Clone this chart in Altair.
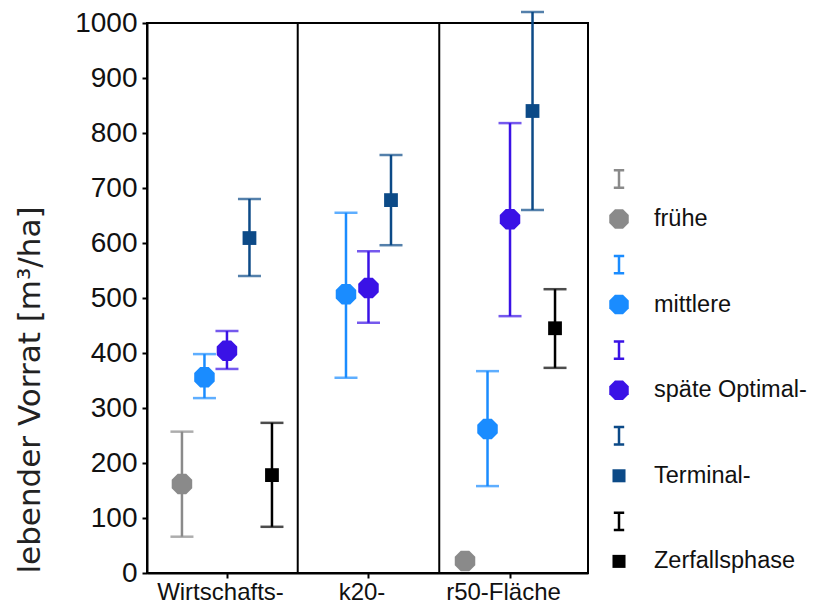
import altair as alt
import pandas as pd

# ---- data ----
areas = ["Wirtschafts-", "k20-", "r50-Fläche"]
phases = ["frühe", "mittlere", "späte Optimal-", "Terminal-", "Zerfallsphase"]
colors = ["#8a8a8a", "#1a8cff", "#3a12e6", "#0c4a87", "#000000"]

mean_wirt = [162, 356, 404, 609, 178]
low_wirt = [66, 318, 371, 540, 84]
high_wirt = [257, 398, 440, 680, 273]

mean_k20 = [None, 507, 518, 678, None]
low_k20 = [None, 355, 455, 596, None]
high_k20 = [None, 655, 585, 760, None]

mean_r50 = [22, 262, 643, 840, 445]
low_r50 = [None, 158, 467, 660, 373]
high_r50 = [None, 367, 818, 1020, 516]

y_ticks = list(range(0, 1001, 100))

# ---- table ----
rows = []
for ai, (m, lo, hi) in enumerate([(mean_wirt, low_wirt, high_wirt),
                                  (mean_k20, low_k20, high_k20),
                                  (mean_r50, low_r50, high_r50)]):
    for pi, ph in enumerate(phases):
        rows.append({"area": areas[ai], "area_idx": ai, "phase": ph, "phase_idx": pi,
                     "mean": m[pi], "lo": lo[pi], "hi": hi[pi]})
df = pd.DataFrame(rows)

FONT = "Liberation Sans"
STEP = 0.159
XDOM = [-0.565, 2.551]
OCT = "M-0.414,-1L0.414,-1L1,-0.414L1,0.414L0.414,1L-0.414,1L-1,0.414L-1,-0.414Z"
IBAR = "M-0.6,-1H0.6M0,-1V1M-0.6,1H0.6"

color = alt.Color("phase:N", scale=alt.Scale(domain=phases, range=colors), legend=None)
label_expr = "[" + ",".join("'%s'" % a for a in areas) + "][datum.value]"

xscale = alt.Scale(domain=XDOM, nice=False, zero=False)
xenc = alt.X("xpos:Q", scale=xscale,
             axis=alt.Axis(values=list(range(len(areas))), labelExpr=label_expr, title=None,
                           grid=False, tickSize=5, tickWidth=2, tickColor="black",
                           domainColor="black", domainWidth=2, labelFontSize=24,
                           labelFont=FONT, labelColor="#111", labelPadding=2,
                           labelOffset=-7))
yscale = alt.Scale(domain=[0, 1000], nice=False, zero=True)
yaxis = alt.Axis(values=y_ticks, format="d", grid=False, tickSize=5, tickWidth=2,
                 tickColor="black", domainColor="black", domainWidth=2, labelFontSize=28,
                 labelFont=FONT, labelColor="#111", labelPadding=5,
                 title="lebender Vorrat [m³/ha]", titleFont="DejaVu Sans", titleFontSize=31,
                 titleFontWeight="normal", titleColor="#222", titlePadding=28,
                 titleAnchor="start")

base = alt.Chart(df).transform_calculate(
    xpos=f"datum.area_idx + (datum.phase_idx - 2) * {STEP}"
)
bars = base.transform_filter("isValid(datum.lo)")

rules = bars.mark_rule(strokeWidth=2.5).encode(
    x=xenc, y=alt.Y("lo:Q", scale=yscale, axis=yaxis), y2="hi:Q", color=color)
cap_lo = bars.mark_tick(orient="horizontal", size=23, thickness=2.5).encode(
    x=xenc, y=alt.Y("lo:Q", scale=yscale, axis=yaxis), color=color)
cap_hi = bars.mark_tick(orient="horizontal", size=23, thickness=2.5).encode(
    x=xenc, y=alt.Y("hi:Q", scale=yscale, axis=yaxis), color=color)
oct_pts = base.transform_filter("isValid(datum.mean) && datum.phase_idx < 3").mark_point(
    shape=OCT, filled=True, size=420, opacity=1).encode(
    x=xenc, y=alt.Y("mean:Q", scale=yscale, axis=yaxis), color=color)
sq_pts = base.transform_filter("isValid(datum.mean) && datum.phase_idx >= 3").mark_point(
    shape="square", filled=True, size=190, opacity=1).encode(
    x=xenc, y=alt.Y("mean:Q", scale=yscale, axis=yaxis), color=color)

dividers = alt.Chart(pd.DataFrame({"d": [i + 0.5 for i in range(len(areas) - 1)]})).mark_rule(
    color="black", strokeWidth=2).encode(x=alt.X("d:Q", scale=xscale))

main = alt.layer(dividers, rules, cap_lo, cap_hi, oct_pts, sq_pts).properties(
    width=441, height=550, view=alt.ViewBackground(stroke="black", strokeWidth=2))

# ---- legend panel ----
leg_df = pd.DataFrame({"phase": phases, "idx": list(range(len(phases)))})
lscale = alt.Scale(domain=[4.603, -1.822], nice=False, zero=False)
ly = alt.Y("idx:Q", scale=lscale, axis=None)
lbase = alt.Chart(leg_df)
l_bar = lbase.mark_point(shape=IBAR, filled=False, size=300, strokeWidth=2.5, opacity=1).encode(
    x=alt.value(30), y=ly, color=color)
l_oct = lbase.transform_filter("datum.idx < 3").mark_point(
    shape=OCT, filled=True, size=380, opacity=1, yOffset=40).encode(x=alt.value(30), y=ly, color=color)
l_sq = lbase.transform_filter("datum.idx >= 3").mark_point(
    shape="square", filled=True, size=170, opacity=1, yOffset=40).encode(x=alt.value(30), y=ly, color=color)
l_txt = lbase.mark_text(align="left", baseline="middle", fontSize=23.5, font=FONT,
                        color="#111", yOffset=40).encode(x=alt.value(65), y=ly, text="phase:N")
legend = alt.layer(l_bar, l_oct, l_sq, l_txt).properties(
    width=205, height=550, view=alt.ViewBackground(stroke=None))

chart = alt.hconcat(main, legend, spacing=0).configure(
    font=FONT, padding={"left": 5, "top": 0, "right": 0, "bottom": 5})
chart.save("out.html", embed_options={"renderer": "svg", "actions": False})
